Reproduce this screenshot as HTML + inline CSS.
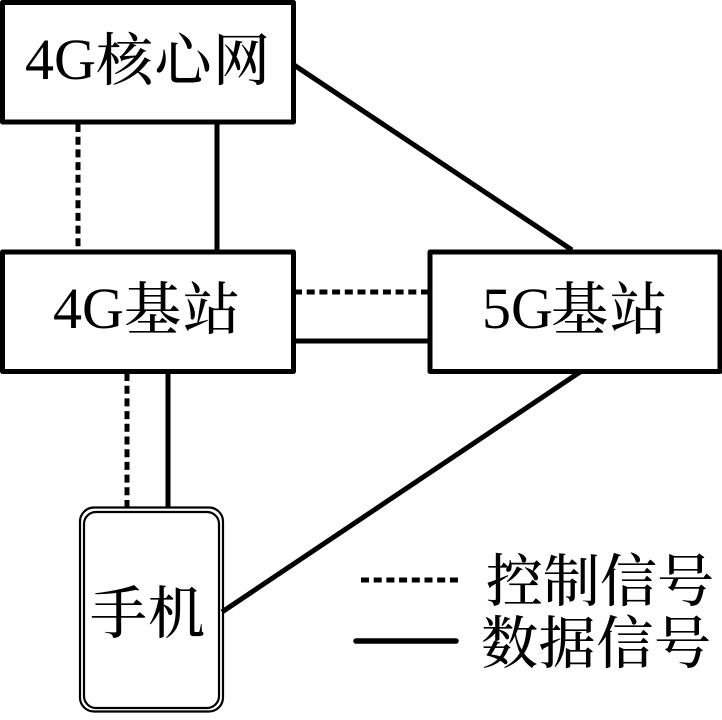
<!DOCTYPE html>
<html><head><meta charset="utf-8">
<style>
html,body{margin:0;padding:0;background:#fff;width:722px;height:720px;overflow:hidden}
svg{display:block}
.t{font-family:"Liberation Serif","Noto Serif CJK SC",serif;font-size:58px;fill:#000}
.c{font-family:"Noto Serif CJK SC","Liberation Serif",serif;font-size:57px;fill:#000;font-weight:500}
</style></head>
<body>
<svg width="722" height="720" viewBox="0 0 722 720" xmlns="http://www.w3.org/2000/svg">
<g fill="none" stroke="#000" stroke-width="5" stroke-linejoin="round">
<rect x="2.5" y="2.5" width="291" height="119.5"/>
<rect x="2.5" y="252" width="291" height="119.5"/>
<rect x="430" y="252" width="290" height="119.5"/>
<line x1="217" y1="122" x2="217" y2="252"/>
<line x1="168" y1="372" x2="168" y2="507"/>
<line x1="294" y1="341" x2="430" y2="341"/>
<line x1="294" y1="65" x2="572" y2="250"/>
<line x1="580" y1="372" x2="222" y2="612"/>
<line x1="356" y1="641" x2="456" y2="641" stroke-width="5.5" stroke-linecap="round"/>
<line x1="78" y1="124" x2="78" y2="252" stroke-dasharray="8 4.7"/>
<line x1="127" y1="373" x2="127" y2="507" stroke-dasharray="8 4.7"/>
<line x1="294" y1="292" x2="430" y2="292" stroke-dasharray="8 4.7"/>
<line x1="361" y1="580" x2="458" y2="580" stroke-dasharray="8 4.7"/>
<rect x="80" y="507.5" width="143" height="204" rx="14" stroke-width="2.2"/>
<rect x="84" y="512" width="135" height="196" rx="12" stroke-width="2.2"/>
</g>
<text class="t" x="25" y="79">4G</text>
<text class="c" x="96" y="80" textLength="174">核心网</text>
<text class="t" x="53" y="328">4G</text>
<text class="c" x="124" y="329" textLength="116">基站</text>
<text class="t" x="482" y="328">5G</text>
<text class="c" x="551" y="329" textLength="116">基站</text>
<text class="c" x="90" y="633" textLength="115">手机</text>
<text class="c" x="486" y="601" textLength="228">控制信号</text>
<text class="c" x="481" y="663" textLength="230">数据信号</text>
</svg>
</body></html>
